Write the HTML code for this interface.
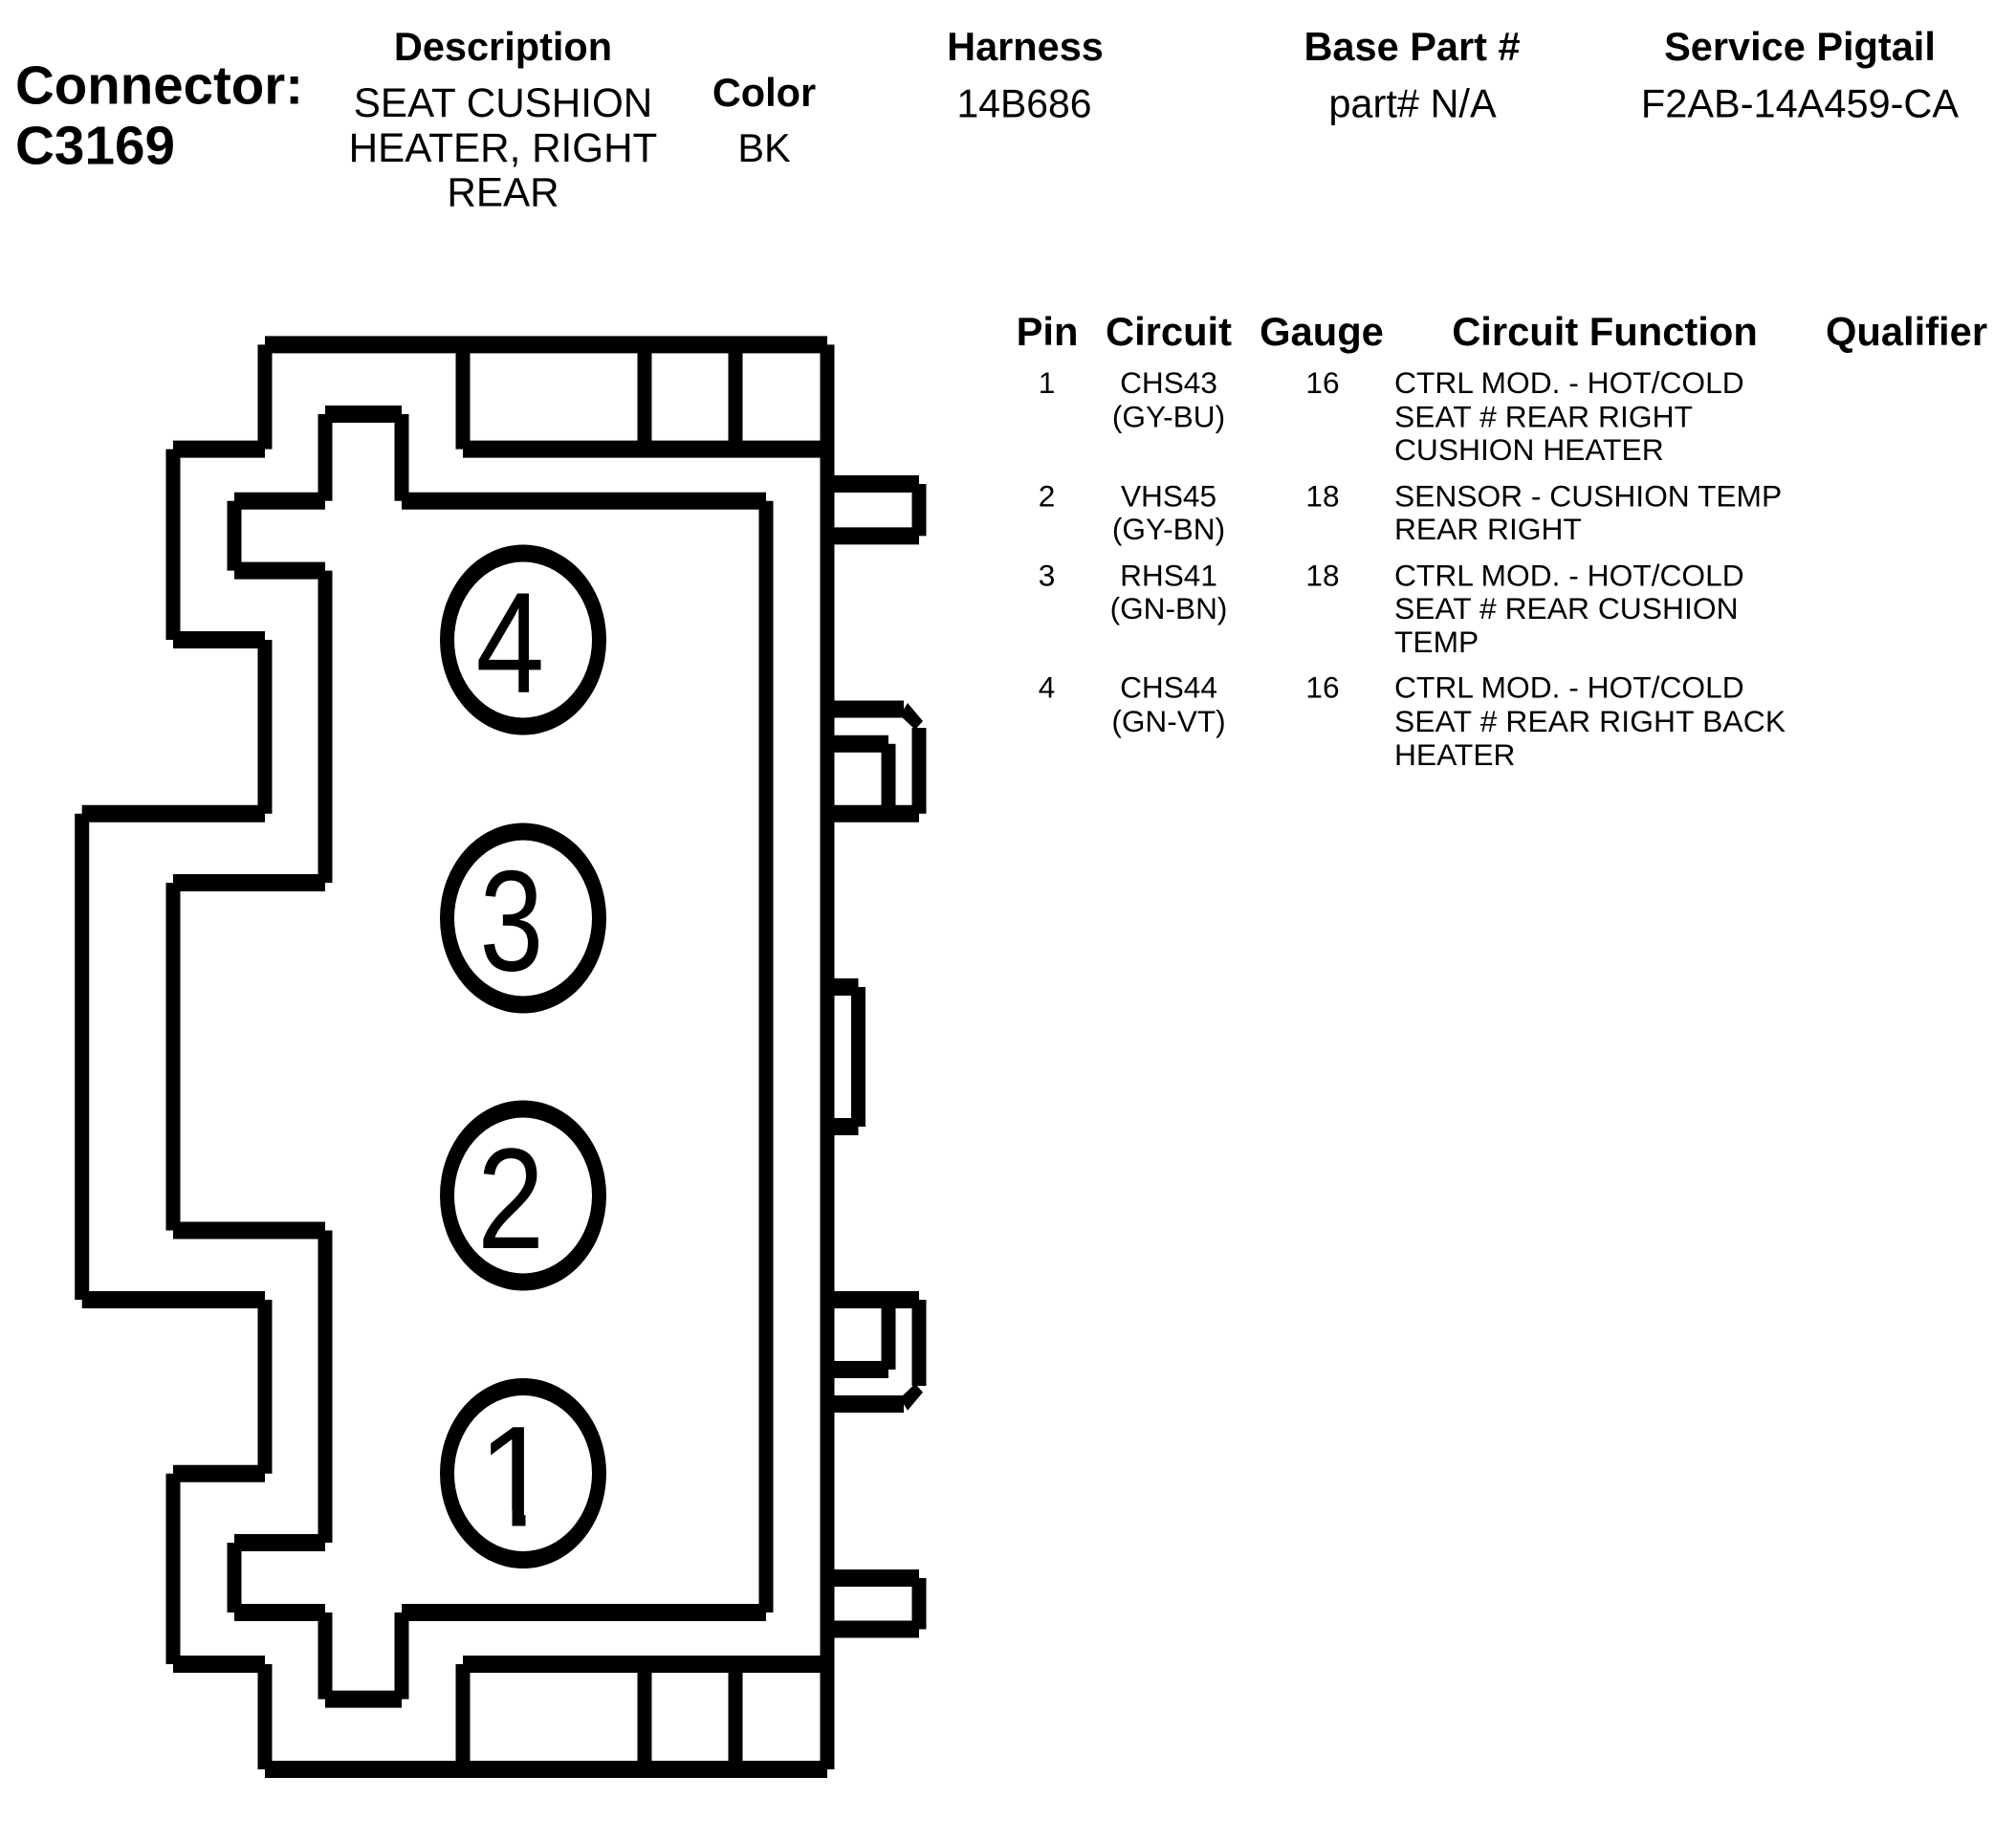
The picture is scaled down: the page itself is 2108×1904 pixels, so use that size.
<!DOCTYPE html>
<html>
<head>
<meta charset="utf-8">
<style>
html,body{margin:0;padding:0;background:#fff;width:2108px;height:1904px;overflow:hidden}
svg{display:block}
text{font-family:"Liberation Sans",Arial,sans-serif;fill:#000}
.h{font-size:41.5px;font-weight:bold;text-anchor:middle}
.v{font-size:41.5px;text-anchor:middle}
.w{font-size:42.2px;text-anchor:middle}
.th{font-size:41.7px;font-weight:bold;text-anchor:middle}
.c{font-size:31.6px;text-anchor:middle}
.l{font-size:31.75px}
.big{font-size:57px;font-weight:bold}
.d{font-size:150px}
</style>
</head>
<body>
<svg width="2108" height="1904" viewBox="0 0 2108 1904" xmlns="http://www.w3.org/2000/svg">
<rect width="2108" height="1904" fill="#fff"/>
<text class="big" x="16" y="108.5" textLength="301" lengthAdjust="spacingAndGlyphs">Connector:</text>
<text class="big" x="16" y="171.5" textLength="167" lengthAdjust="spacingAndGlyphs">C3169</text>
<text class="h" x="526" y="63">Description</text>
<text class="w" x="526" y="122">SEAT CUSHION</text>
<text class="w" x="526" y="169">HEATER, RIGHT</text>
<text class="w" x="526" y="215.5">REAR</text>
<text class="h" x="799" y="111">Color</text>
<text class="v" x="799" y="169">BK</text>
<text class="h" x="1072" y="63">Harness</text>
<text class="v" x="1071" y="122.5" textLength="141" lengthAdjust="spacingAndGlyphs">14B686</text>
<text class="h" x="1476.5" y="63">Base Part #</text>
<text class="v" x="1477" y="122.5">part# N/A</text>
<text class="h" x="1882" y="63">Service Pigtail</text>
<text class="v" x="1882" y="122.5">F2AB-14A459-CA</text>

<text class="th" x="1095" y="361">Pin</text>
<text class="th" x="1222" y="361">Circuit</text>
<text class="th" x="1382" y="361">Gauge</text>
<text class="th" x="1678" y="361">Circuit Function</text>
<text class="th" x="1993.5" y="361">Qualifier</text>

<text class="c" x="1094.5" y="411">1</text>
<text class="c" x="1222" y="411">CHS43</text>
<text class="c" x="1222" y="446.5">(GY-BU)</text>
<text class="c" x="1383" y="411">16</text>
<text class="l" x="1458" y="411">CTRL MOD. - HOT/COLD</text>
<text class="l" x="1458" y="446.5" textLength="312" lengthAdjust="spacing">SEAT # REAR RIGHT</text>
<text class="l" x="1458" y="481">CUSHION HEATER</text>

<text class="c" x="1094.5" y="529.5">2</text>
<text class="c" x="1222" y="529.5">VHS45</text>
<text class="c" x="1222" y="564">(GY-BN)</text>
<text class="c" x="1383" y="529.5">18</text>
<text class="l" x="1458" y="529.5">SENSOR - CUSHION TEMP</text>
<text class="l" x="1458" y="564">REAR RIGHT</text>

<text class="c" x="1094.5" y="612.5">3</text>
<text class="c" x="1222" y="612.5">RHS41</text>
<text class="c" x="1222" y="647">(GN-BN)</text>
<text class="c" x="1383" y="612.5">18</text>
<text class="l" x="1458" y="612.5">CTRL MOD. - HOT/COLD</text>
<text class="l" x="1458" y="647" textLength="359.5" lengthAdjust="spacing">SEAT # REAR CUSHION</text>
<text class="l" x="1458" y="682">TEMP</text>

<text class="c" x="1094.5" y="729.5">4</text>
<text class="c" x="1222" y="729.5">CHS44</text>
<text class="c" x="1222" y="765">(GN-VT)</text>
<text class="c" x="1383" y="729.5">16</text>
<text class="l" x="1458" y="729.5">CTRL MOD. - HOT/COLD</text>
<text class="l" x="1458" y="765" textLength="409" lengthAdjust="spacing">SEAT # REAR RIGHT BACK</text>
<text class="l" x="1458" y="800">HEATER</text>

<path fill="none" stroke="#000" stroke-width="18" d="M277 360.4H865M181 469.6H277M484 469.6H865M181 669H277M85.7 850.7H277M85.7 1359H277M181 1540.7H277M181 1740H277M484 1740H865M277 1850H865M340 433H420M245 523.7H340M420 523.7H801M245 596.6H340M181 923H340M181 1286.5H340M245 1613H340M245 1686H340M420 1686H801M340 1776.6H420M865 506H961M865 560.4H961M865 1650H961M865 1703.5H961M865 1032H897.5M865 1178H897.5M865 741.5H945M865 777.8H929M865 850.7H961M865 1359H961M865 1432H929M865 1468H945"/>
<path fill="none" stroke="#000" stroke-width="15" d="M277 360.4V469.6M277 669V850.7M277 1359V1540.7M277 1740V1850M181 469.6V669M181 1540.7V1740M181 923V1286.5M85.7 850.7V1359M484 360.4V469.6M484 1740V1850M674 360.4V469.6M674 1740V1850M769 360.4V469.6M769 1740V1850M865 360.4V1850M340 433V523.7M340 596.6V923M340 1286.5V1613M340 1686V1776.6M245 523.7V596.6M245 1613V1686M420 433V523.7M420 1686V1776.6M801 523.7V1686M961 506V560.4M961 761V850.7M961 1359V1449M961 1650V1703.5M897.5 1032V1178M929 777.8V850.7M929 1359V1432"/>
<polygon points="949,735 965,754 957,763 941,748" fill="#000"/>
<polygon points="949,1474.7 965,1455.7 957,1446.7 941,1461.7" fill="#000"/>

<g fill="#000">
<ellipse cx="547" cy="669" rx="87" ry="99.5"/>
<ellipse cx="547" cy="960" rx="87" ry="99.5"/>
<ellipse cx="547" cy="1250" rx="87" ry="99.5"/>
<ellipse cx="547" cy="1540.5" rx="87" ry="99.5"/>
</g>
<g fill="#fff">
<ellipse cx="547" cy="669" rx="72" ry="81.5"/>
<ellipse cx="547" cy="960" rx="72" ry="81.5"/>
<ellipse cx="547" cy="1250" rx="72" ry="81.5"/>
<ellipse cx="547" cy="1540.5" rx="72" ry="81.5"/>
</g>
<text class="d" transform="translate(497.5 723.7) scale(.86 1)">4</text>
<text class="d" transform="translate(501.5 1014.5) scale(.8 1)">3</text>
<text class="d" transform="translate(499 1305) scale(.84 1)">2</text>
<text class="d" transform="translate(499.5 1595.5) scale(.95 1)">1</text>
<rect x="495" y="1579" width="40.5" height="18" fill="#fff"/>
<rect x="549.5" y="1579" width="40" height="18" fill="#fff"/>
</svg>
</body>
</html>
